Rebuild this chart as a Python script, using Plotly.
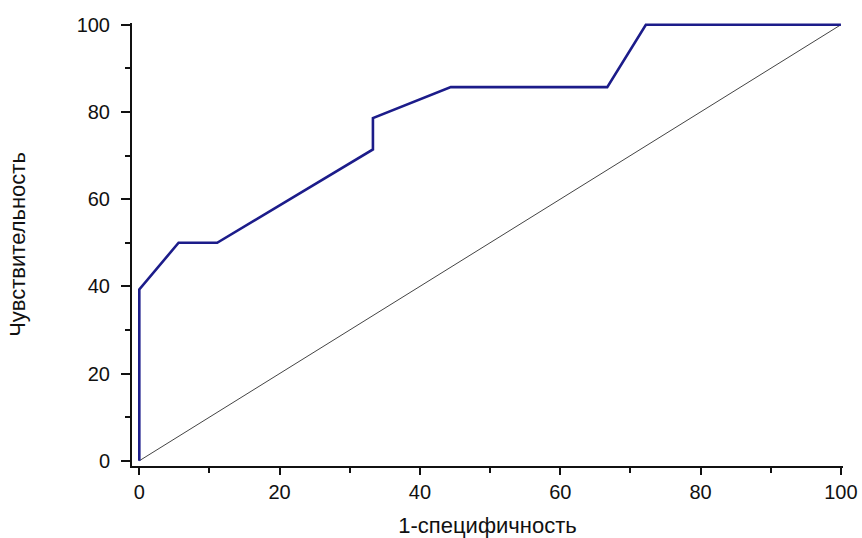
import plotly.graph_objects as go

# ROC curve data (1-specificity, sensitivity), in percent
fpr = [0, 0, 5.6, 11.1, 33.3, 33.3, 44.4, 66.7, 72.2, 100]
tpr = [0, 39.3, 50, 50, 71.4, 78.6, 85.7, 85.7, 100, 100]
diag_x = [0, 100]
diag_y = [0, 100]
tick_vals = [0, 20, 40, 60, 80, 100]

fig = go.Figure()
fig.add_trace(go.Scatter(x=diag_x, y=diag_y, mode="lines",
                         line=dict(color="#444444", width=1), showlegend=False))
fig.add_trace(go.Scatter(x=fpr, y=tpr, mode="lines",
                         line=dict(color="#1c1c8a", width=2.6), showlegend=False))

axis_font = dict(family="Liberation Sans, Arial, sans-serif", size=20, color="#111111")
title_font = dict(family="Liberation Sans, Arial, sans-serif", size=22, color="#111111")

fig.update_layout(
    template="none",
    width=862, height=538,
    margin=dict(l=132, r=19, t=23, b=72),
    paper_bgcolor="white", plot_bgcolor="white",
    xaxis=dict(range=[-1.04, 100.3], tickvals=tick_vals, showgrid=False, zeroline=False,
               automargin=False, ticklabeloverflow="allow",
               showline=True, linecolor="#111111", linewidth=2,
               ticks="outside", ticklen=7, tickwidth=2, tickcolor="#111111",
               minor=dict(dtick=10, tick0=0, ticks="outside", ticklen=5, tickwidth=2, tickcolor="#111111"),
               tickfont=axis_font,
               title=dict(text="1-специфичность", font=title_font, standoff=18)),
    yaxis=dict(range=[-1.2, 100.4], tickvals=tick_vals, showgrid=False, zeroline=False,
               automargin=False, ticklabeloverflow="allow",
               showline=True, linecolor="#111111", linewidth=2,
               ticks="outside", ticklen=9, tickwidth=2, tickcolor="#111111",
               ticklabelstandoff=7,
               minor=dict(dtick=10, tick0=0, ticks="outside", ticklen=5, tickwidth=2, tickcolor="#111111"),
               tickfont=axis_font,
               title=dict(text="Чувствительность", font=title_font, standoff=45)),
)

fig.write_html("out.html", config={"displayModeBar": False},
               post_script="document.body.style.margin = '0';")
